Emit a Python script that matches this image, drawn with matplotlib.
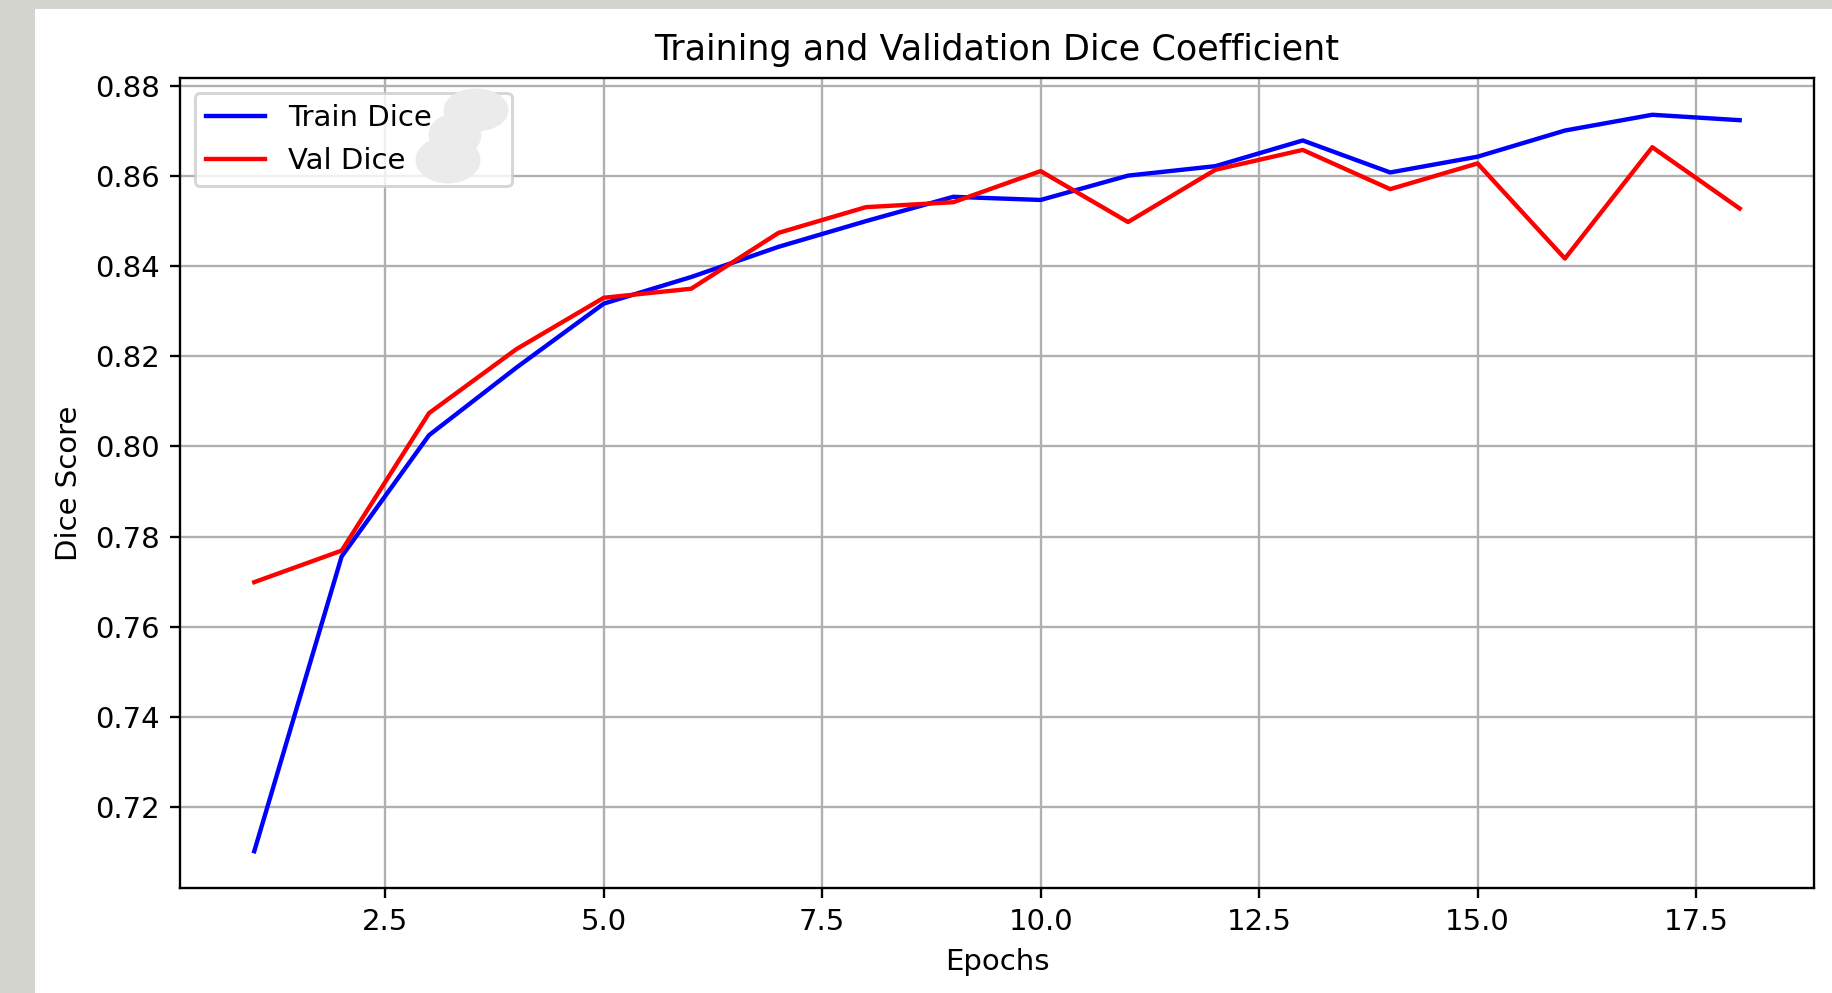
import numpy as np
import matplotlib
matplotlib.use('Agg')
import matplotlib.pyplot as plt
from matplotlib.patches import Rectangle, Ellipse

epochs = list(range(1, 19))
train_dice = [0.7102, 0.7756, 0.8025, 0.8175, 0.8317, 0.8376, 0.8443, 0.8500,
              0.8554, 0.8547, 0.8601, 0.8622, 0.8679, 0.8608, 0.8643, 0.8701,
              0.8736, 0.8724]
val_dice = [0.7699, 0.7769, 0.8074, 0.8216, 0.8330, 0.8350, 0.8474, 0.8531,
            0.8542, 0.8611, 0.8498, 0.8614, 0.8658, 0.8571, 0.8628, 0.8417,
            0.8664, 0.8528]

W, H = 1833, 993
dpi = 210
fig = plt.figure(figsize=(W / dpi, H / dpi), dpi=dpi)
fig.patch.set_facecolor('white')
# screenshot border (left and top)
fig.patches.append(Rectangle((0, 0), 33 / W, 1, transform=fig.transFigure,
                             color='#d4d4cf', zorder=-1))
fig.patches.append(Rectangle((0, 1 - 7 / H), 1, 7 / H, transform=fig.transFigure,
                             color='#d4d4cf', zorder=-1))

ax = fig.add_axes([0.0982, 0.1057, 0.9896 - 0.0982, 0.9215 - 0.1057])
ax.plot(epochs, train_dice, 'b-', label='Train Dice')
ax.plot(epochs, val_dice, 'r-', label='Val Dice')

ax.set_xlabel('Epochs')
ax.set_ylabel('Dice Score')
ax.set_title('Training and Validation Dice Coefficient')
ax.legend(loc='upper left', bbox_to_anchor=(0, 0, 0.212, 1), mode='expand')
ax.grid(True)

# smudge over the legend (pixel positions of the screenshot)
for cx, cy, ew, eh in [(476, 110, 62, 40), (455, 135, 50, 40), (448, 160, 62, 44)]:
    fig.patches.append(Ellipse((cx / W, 1 - cy / H), ew / W, eh / H,
                               transform=fig.transFigure, color='#ebebeb',
                               zorder=10))

fig.savefig('out.png', dpi=dpi)
